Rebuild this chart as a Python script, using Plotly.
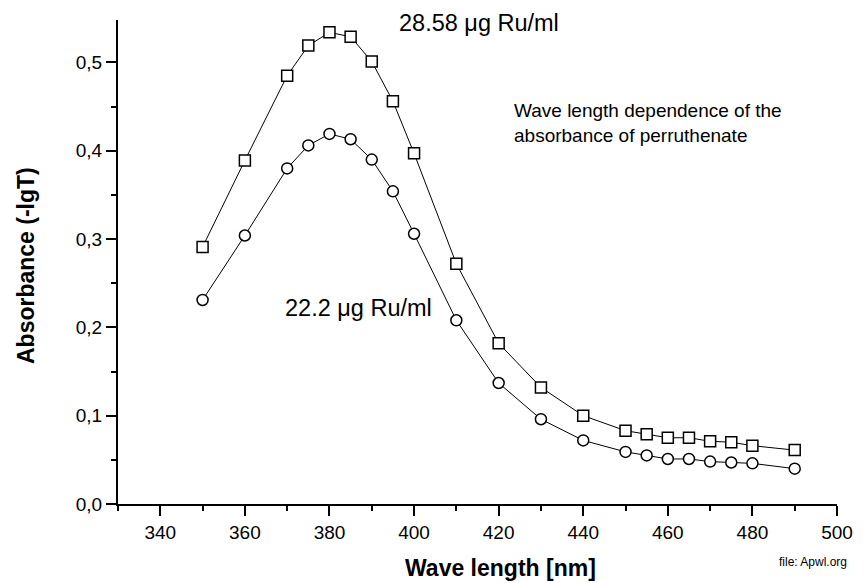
import plotly.graph_objects as go

wavelength = [350, 360, 370, 375, 380, 385, 390, 395, 400, 410, 420, 430, 440, 450, 455, 460, 465, 470, 475, 480, 490]
abs_2858 = [0.291, 0.389, 0.485, 0.519, 0.534, 0.529, 0.501, 0.456, 0.397, 0.272, 0.182, 0.132, 0.100, 0.083, 0.079, 0.075, 0.075, 0.071, 0.070, 0.066, 0.061]
abs_222 = [0.231, 0.304, 0.380, 0.406, 0.419, 0.413, 0.390, 0.354, 0.306, 0.208, 0.137, 0.096, 0.072, 0.059, 0.055, 0.051, 0.051, 0.048, 0.047, 0.046, 0.040]

FONT = "Arial, Liberation Sans, sans-serif"

fig = go.Figure()
fig.add_trace(go.Scatter(
    x=wavelength, y=abs_2858, mode="lines+markers",
    line=dict(color="black", width=1),
    marker=dict(symbol="square", size=11, color="white", line=dict(color="black", width=1.5)),
    showlegend=False,
))
fig.add_trace(go.Scatter(
    x=wavelength, y=abs_222, mode="lines+markers",
    line=dict(color="black", width=1),
    marker=dict(symbol="circle", size=11, color="white", line=dict(color="black", width=1.5)),
    showlegend=False,
))

axis_common = dict(
    showline=True, linecolor="black", linewidth=2,
    ticks="outside", ticklen=10, tickwidth=2, tickcolor="black",
    showgrid=False, zeroline=False, mirror=False,
    tickfont=dict(family=FONT, size=19, color="black"),
)

fig.update_xaxes(range=[330, 500], dtick=20, tick0=340,
                 minor=dict(ticks="outside", ticklen=5, tickwidth=2, tickcolor="black", dtick=10, tick0=330, showgrid=False),
                 **axis_common)
fig.update_yaxes(range=[0, 0.548], dtick=0.1, tick0=0, tickformat=".1f",
                 minor=dict(ticks="outside", ticklen=5, tickwidth=2, tickcolor="black", dtick=0.05, tick0=0, showgrid=False),
                 **axis_common)

annos = [
    dict(x=396, y=0.545, text="28.58 μg Ru/ml", xanchor="left", yanchor="middle", size=23.5),
    dict(x=369.1, y=0.222, text="22.2 μg Ru/ml", xanchor="left", yanchor="middle", size=23.5),
    dict(x=423.1, y=0.4457, text="Wave length dependence of the", xanchor="left", yanchor="middle", size=19),
    dict(x=423.1, y=0.4174, text="absorbance of perruthenate", xanchor="left", yanchor="middle", size=19),
]
for a in annos:
    fig.add_annotation(x=a["x"], y=a["y"], xref="x", yref="y", text=a["text"], showarrow=False,
                       xanchor=a["xanchor"], yanchor=a["yanchor"],
                       font=dict(family=FONT, size=a["size"], color="black"))

# axis titles and file note
fig.add_annotation(x=505 / 865, y=1 - 568 / 583, xref="paper", yref="paper", text="<b>Wave length [nm]</b>",
                   showarrow=False, xanchor="center", yanchor="middle",
                   font=dict(family=FONT, size=23, color="black"))
fig.add_annotation(x=25 / 865, y=1 - 266 / 583, xref="paper", yref="paper", text="<b>Absorbance (-lgT)</b>",
                   showarrow=False, xanchor="center", yanchor="middle", textangle=-90,
                   font=dict(family=FONT, size=23, color="black"))
fig.add_annotation(x=821 / 865, y=1 - 562 / 583, xref="paper", yref="paper", text="file: Apwl.org",
                   showarrow=False, xanchor="center", yanchor="middle",
                   font=dict(family=FONT, size=12, color="black"))

# convert paper fractions based on full-page coords into margin-relative positions
L, R, T, B = 118, 20, 20, 79
W, H = 865, 583
for ann in fig.layout.annotations:
    if ann.xref == "paper":
        px = ann.x * W
        py = (1 - ann.y) * H
        ann.x = (px - L) / (W - L - R)
        ann.y = 1 - (py - T) / (H - T - B)

fig.update_layout(
    width=W, height=H,
    margin=dict(l=L, r=R, t=T, b=B),
    paper_bgcolor="white", plot_bgcolor="white",
    separators=",.",
    font=dict(family=FONT, color="black"),
)

fig.write_html("out.html")
